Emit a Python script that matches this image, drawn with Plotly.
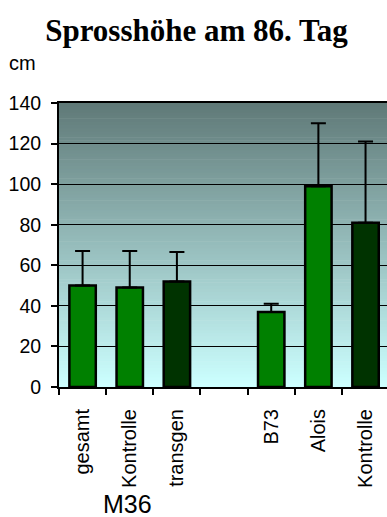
import plotly.graph_objects as go

# Shoot height on day 86 (cm), mean and upper standard deviation
categories = ["gesamt", "Kontrolle", "transgen", "", "B73", "Alois", "Kontrolle"]
bar_positions = [0, 1, 2, 4, 5, 6]
heights = [50, 49, 52, 37, 99, 81]
error_upper = [17, 18, 14.5, 4, 31, 40]
bar_colors = ["#008000", "#008000", "#003300", "#008000", "#008000", "#003300"]
y_ticks = [0, 20, 40, 60, 80, 100, 120, 140]

W, H = 387, 517
fig = go.Figure()

fig.add_trace(go.Bar(
    x=bar_positions,
    y=heights,
    width=0.56,
    marker=dict(color=bar_colors, line=dict(color="black", width=2.5)),
    error_y=dict(type="data", symmetric=False, array=error_upper,
                 arrayminus=[0] * len(heights), color="black",
                 thickness=2, width=7.5),
    showlegend=False,
))

# Vertical gradient for the plot background (dark slate at top, pale cyan at bottom)
top_rgb = (96, 122, 120)
bot_rgb = (204, 255, 255)
n_steps = 90
shapes = []
for i in range(n_steps):
    f = i / (n_steps - 1)
    r = round(bot_rgb[0] + (top_rgb[0] - bot_rgb[0]) * f)
    g = round(bot_rgb[1] + (top_rgb[1] - bot_rgb[1]) * f)
    b = round(bot_rgb[2] + (top_rgb[2] - bot_rgb[2]) * f)
    shapes.append(dict(
        type="rect", xref="x domain", yref="y domain",
        x0=0, x1=1, y0=i / n_steps, y1=(i + 1) / n_steps + 0.002,
        fillcolor=f"rgb({r},{g},{b})", line=dict(width=0), layer="below",
    ))

boundaries = [i - 0.5 for i in range(len(categories) + 1)]

fig.update_layout(
    width=W, height=H,
    margin=dict(l=59, r=0, t=103, b=130, pad=0),
    paper_bgcolor="white",
    plot_bgcolor="rgba(0,0,0,0)",
    shapes=shapes,
    font=dict(family="Liberation Sans, Arial", size=19, color="black"),
    title=dict(
        text="<b>Sprosshöhe am 86. Tag</b>",
        font=dict(family="Liberation Serif, Times New Roman", size=31, color="black"),
        x=196.5 / W, xanchor="center", xref="container",
        y=1 - 30 / H, yanchor="middle", yref="container",
    ),
    xaxis=dict(
        range=[-0.5, 6.455],
        tickmode="array",
        tickvals=list(range(len(categories))),
        ticktext=categories,
        tickangle=-90,
        ticks="",
        ticklabelstandoff=12,
        tickfont=dict(size=20),
        showgrid=False,
        zeroline=False,
        showline=True, linecolor="black", linewidth=2, mirror=True,
        minor=dict(tickmode="array", tickvals=boundaries, ticks="outside",
                   ticklen=6, tickwidth=1.5, tickcolor="black", showgrid=False),
    ),
    yaxis=dict(
        range=[0, 140],
        tickmode="array",
        tickvals=y_ticks,
        ticks="outside", ticklen=6, tickwidth=1.5, tickcolor="black",
        ticklabelstandoff=6,
        showgrid=True, gridcolor="black", gridwidth=1,
        zeroline=False,
        showline=True, linecolor="black", linewidth=2,
        tickfont=dict(size=19.5),
    ),
    annotations=[
        dict(text="cm", xref="paper", yref="paper", x=-52 / (W - 59), y=1 + 40 / 284,
             xanchor="left", yanchor="middle", showarrow=False,
             font=dict(size=20)),
        dict(text="M36", xref="paper", yref="paper", x=(127 - 59) / (W - 59),
             y=-(504 - 387) / 284, xanchor="center", yanchor="middle",
             showarrow=False, font=dict(size=25)),
    ],
)

fig.write_html("out.html")
